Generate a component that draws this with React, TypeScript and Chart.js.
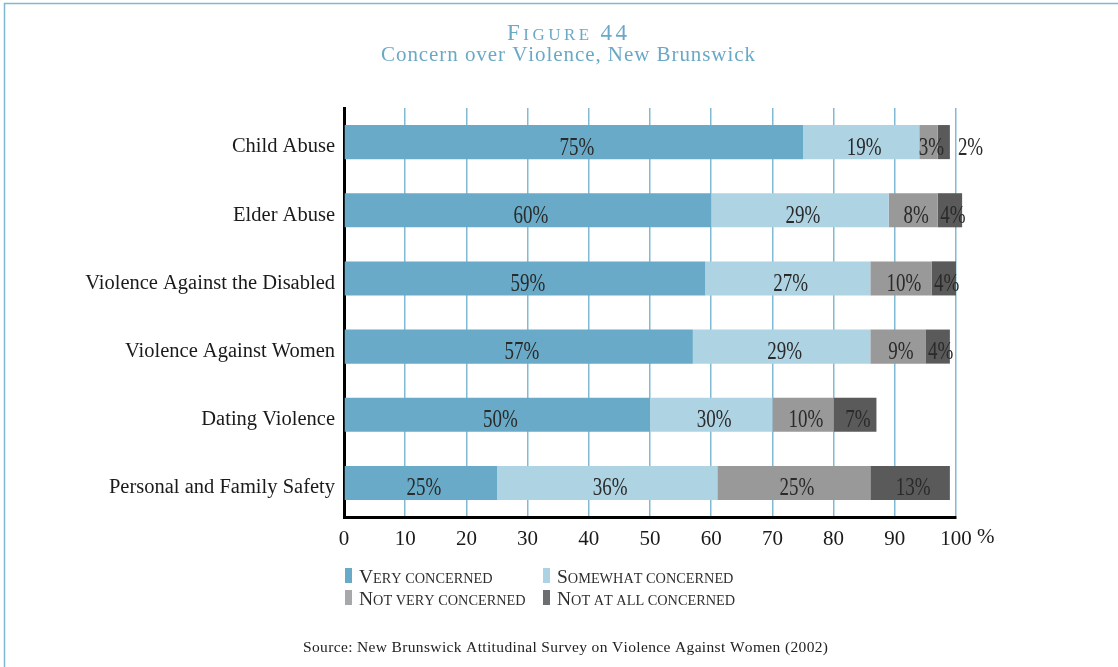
import React, { useEffect, useRef } from "react";
import { Chart, registerables } from "chart.js";

Chart.register(...registerables);

// ---------- data ----------
const categories = [
  "Child Abuse",
  "Elder Abuse",
  "Violence Against the Disabled",
  "Violence Against Women",
  "Dating Violence",
  "Personal and Family Safety",
];
const seriesNames = [
  "Very concerned",
  "Somewhat concerned",
  "Not very concerned",
  "Not at all concerned",
];
// bar lengths as drawn in the figure
const veryConcerned = [75, 60, 59, 57, 50, 25];
const somewhatConcerned = [19, 29, 27, 29, 20, 36];
const notVeryConcerned = [3, 8, 10, 9, 10, 25];
const notAtAllConcerned = [2, 4, 4, 4, 7, 13];
// printed labels
const veryLabels = ["75%", "60%", "59%", "57%", "50%", "25%"];
const somewhatLabels = ["19%", "29%", "27%", "29%", "30%", "36%"];
const notVeryLabels = ["3%", "8%", "10%", "9%", "10%", "25%"];
const notAtAllLabels = ["2%", "4%", "4%", "4%", "7%", "13%"];
const xTickValues = [0, 10, 20, 30, 40, 50, 60, 70, 80, 90, 100];
const titleText = "Figure 44";
const subtitleText = "Concern over Violence, New Brunswick";
const sourceText =
  "Source: New Brunswick Attitudinal Survey on Violence Against Women (2002)";

// ---------- styles ----------
const SERIF = "'Liberation Serif', 'Times New Roman', serif";
const barColors = ["#68aac7", "#aed3e3", "#999999", "#5a5a5a"];
const legendColors = ["#69aac8", "#acd2e3", "#a7a8ab", "#6d6e71"];
const TITLE_BLUE = "#6aa9c6";
const valueLabels = [veryLabels, somewhatLabels, notVeryLabels, notAtAllLabels];

type Run = { text: string; size: number };

function plainRuns(text: string, size: number): Run[] {
  return Array.from(text).map((ch) => ({ text: ch, size }));
}
function smallCapsRuns(text: string, big: number, small: number): Run[] {
  return Array.from(text).map((ch) => {
    const lower = ch !== ch.toUpperCase();
    if (lower) return { text: ch.toUpperCase(), size: small };
    if (ch === " ") return { text: ch, size: small };
    return { text: ch, size: big };
  });
}
function drawRuns(
  ctx: CanvasRenderingContext2D,
  runs: Run[],
  x: number,
  y: number,
  align: "left" | "center",
  color: string,
  targetWidth?: number
) {
  ctx.save();
  ctx.fillStyle = color;
  ctx.textBaseline = "alphabetic";
  ctx.textAlign = "left";
  const widths = runs.map((r) => {
    ctx.font = `${r.size}px ${SERIF}`;
    return ctx.measureText(r.text).width;
  });
  const natural = widths.reduce((a, b) => a + b, 0);
  const gap =
    targetWidth && runs.length > 1 ? (targetWidth - natural) / (runs.length - 1) : 0;
  const total = natural + gap * (runs.length - 1);
  let cx = align === "center" ? x - total / 2 : x;
  runs.forEach((r, i) => {
    ctx.font = `${r.size}px ${SERIF}`;
    ctx.fillText(r.text, cx, y);
    cx += widths[i] + gap;
  });
  ctx.restore();
}

const decorPlugin = {
  id: "figureDecor",
  beforeDraw(chart: any) {
    const ctx: CanvasRenderingContext2D = chart.ctx;
    ctx.save();
    ctx.fillStyle = "#ffffff";
    ctx.fillRect(0, 0, chart.width, chart.height);
    ctx.strokeStyle = "#7fb8d3";
    ctx.lineWidth = 1.5;
    ctx.beginPath();
    ctx.moveTo(4.5, chart.height);
    ctx.lineTo(4.5, 3.5);
    ctx.lineTo(chart.width, 3.5);
    ctx.stroke();
    ctx.restore();
  },
  afterDatasetsDraw(chart: any) {
    const ctx: CanvasRenderingContext2D = chart.ctx;
    chart.data.datasets.forEach((_ds: any, di: number) => {
      const meta = chart.getDatasetMeta(di);
      meta.data.forEach((el: any, j: number) => {
        const p = el.getProps(["x", "y", "base"], true);
        const w = Math.abs(p.x - p.base);
        const text = valueLabels[di][j];
        ctx.save();
        ctx.fillStyle = "#2a2a2a";
        ctx.font = `26px ${SERIF}`;
        ctx.textBaseline = "alphabetic";
        if (w < 15) {
          ctx.translate(Math.max(p.x, p.base) + 8, p.y + 12.5);
          ctx.scale(0.73, 1);
          ctx.textAlign = "left";
        } else {
          ctx.translate((p.x + p.base) / 2 + 3, p.y + 12.5);
          ctx.scale(0.73, 1);
          ctx.textAlign = "center";
        }
        ctx.fillText(text, 0, 0);
        ctx.restore();
      });
    });
  },
  afterDraw(chart: any) {
    const ctx: CanvasRenderingContext2D = chart.ctx;
    // title + subtitle
    drawRuns(ctx, smallCapsRuns(titleText, 23, 17), 567, 39.5, "center", TITLE_BLUE, 120);
    drawRuns(ctx, plainRuns(subtitleText, 21), 568, 61, "center", TITLE_BLUE, 374);

    // "%" unit after the 100 tick
    const xs = chart.scales.x;
    const px = xs.getPixelForValue(100);
    ctx.save();
    ctx.font = `21px ${SERIF}`;
    ctx.fillStyle = "#1a1a1a";
    ctx.textBaseline = "top";
    ctx.textAlign = "left";
    const w100 = ctx.measureText("100").width;
    const wsp = ctx.measureText(" ").width;
    ctx.fillText("%", px + w100 / 2 + wsp, xs.top + 10);
    ctx.restore();

    // legend (2 x 2)
    const colX = [345, 543];
    const rowY = [568, 590];
    seriesNames.forEach((name, i) => {
      const cx = colX[i % 2];
      const ry = rowY[Math.floor(i / 2)];
      ctx.save();
      ctx.fillStyle = legendColors[i];
      ctx.fillRect(cx, ry, 7, 15);
      ctx.restore();
      drawRuns(ctx, smallCapsRuns(name, 19.5, 14.3), cx + 14, ry + 15, "left", "#2e2e2e");
    });

    // source
    drawRuns(ctx, plainRuns(sourceText, 15.5), 565.5, 652, "center", "#222222", 525);
  },
};

export default function App() {
  const canvasRef = useRef<HTMLCanvasElement | null>(null);

  useEffect(() => {
    const canvas = canvasRef.current;
    if (!canvas) return;
    const datasets = [veryConcerned, somewhatConcerned, notVeryConcerned, notAtAllConcerned].map(
      (data, i) => ({
        label: seriesNames[i],
        data,
        backgroundColor: barColors[i],
        borderWidth: 0,
        categoryPercentage: 1,
        barPercentage: 0.5,
        clip: false as any,
      })
    );
    const chart = new Chart(canvas, {
      type: "bar",
      data: { labels: categories, datasets },
      options: {
        indexAxis: "y",
        responsive: false,
        animation: false,
        devicePixelRatio: 1,
        layout: { padding: { top: 108, right: 162, bottom: 0, left: 0 } },
        plugins: {
          legend: { display: false },
          title: { display: false },
          tooltip: { enabled: false },
        },
        scales: {
          x: {
            type: "linear",
            stacked: true,
            min: 0,
            max: 100,
            afterFit: (scale: any) => {
              scale.height = 150;
            },
            afterBuildTicks: (scale: any) => {
              scale.ticks = xTickValues.map((v) => ({ value: v }));
            },
            grid: {
              color: "#80bad4",
              lineWidth: 1.5,
              drawTicks: false,
            },
            border: { display: true, color: "#000000", width: 3 },
            ticks: {
              autoSkip: false,
              maxRotation: 0,
              padding: 10,
              color: "#1a1a1a",
              font: { family: SERIF, size: 21 },
              callback: (v: any) => String(v),
            },
          },
          y: {
            type: "category",
            stacked: true,
            z: 1,
            afterFit: (scale: any) => {
              scale.width = 344;
            },
            grid: { display: false, drawTicks: false },
            border: { display: true, color: "#000000", width: 3 },
            ticks: {
              padding: 9,
              labelOffset: 5,
              color: "#1a1a1a",
              font: { family: SERIF, size: 20.5 },
            },
          },
        },
      },
      plugins: [decorPlugin],
    });
    return () => chart.destroy();
  }, []);

  return (
    <div style={{ position: "absolute", left: 0, top: 0, width: 1118, height: 667, background: "#fff" }}>
      <canvas ref={canvasRef} width={1118} height={667} style={{ display: "block" }} />
    </div>
  );
}
